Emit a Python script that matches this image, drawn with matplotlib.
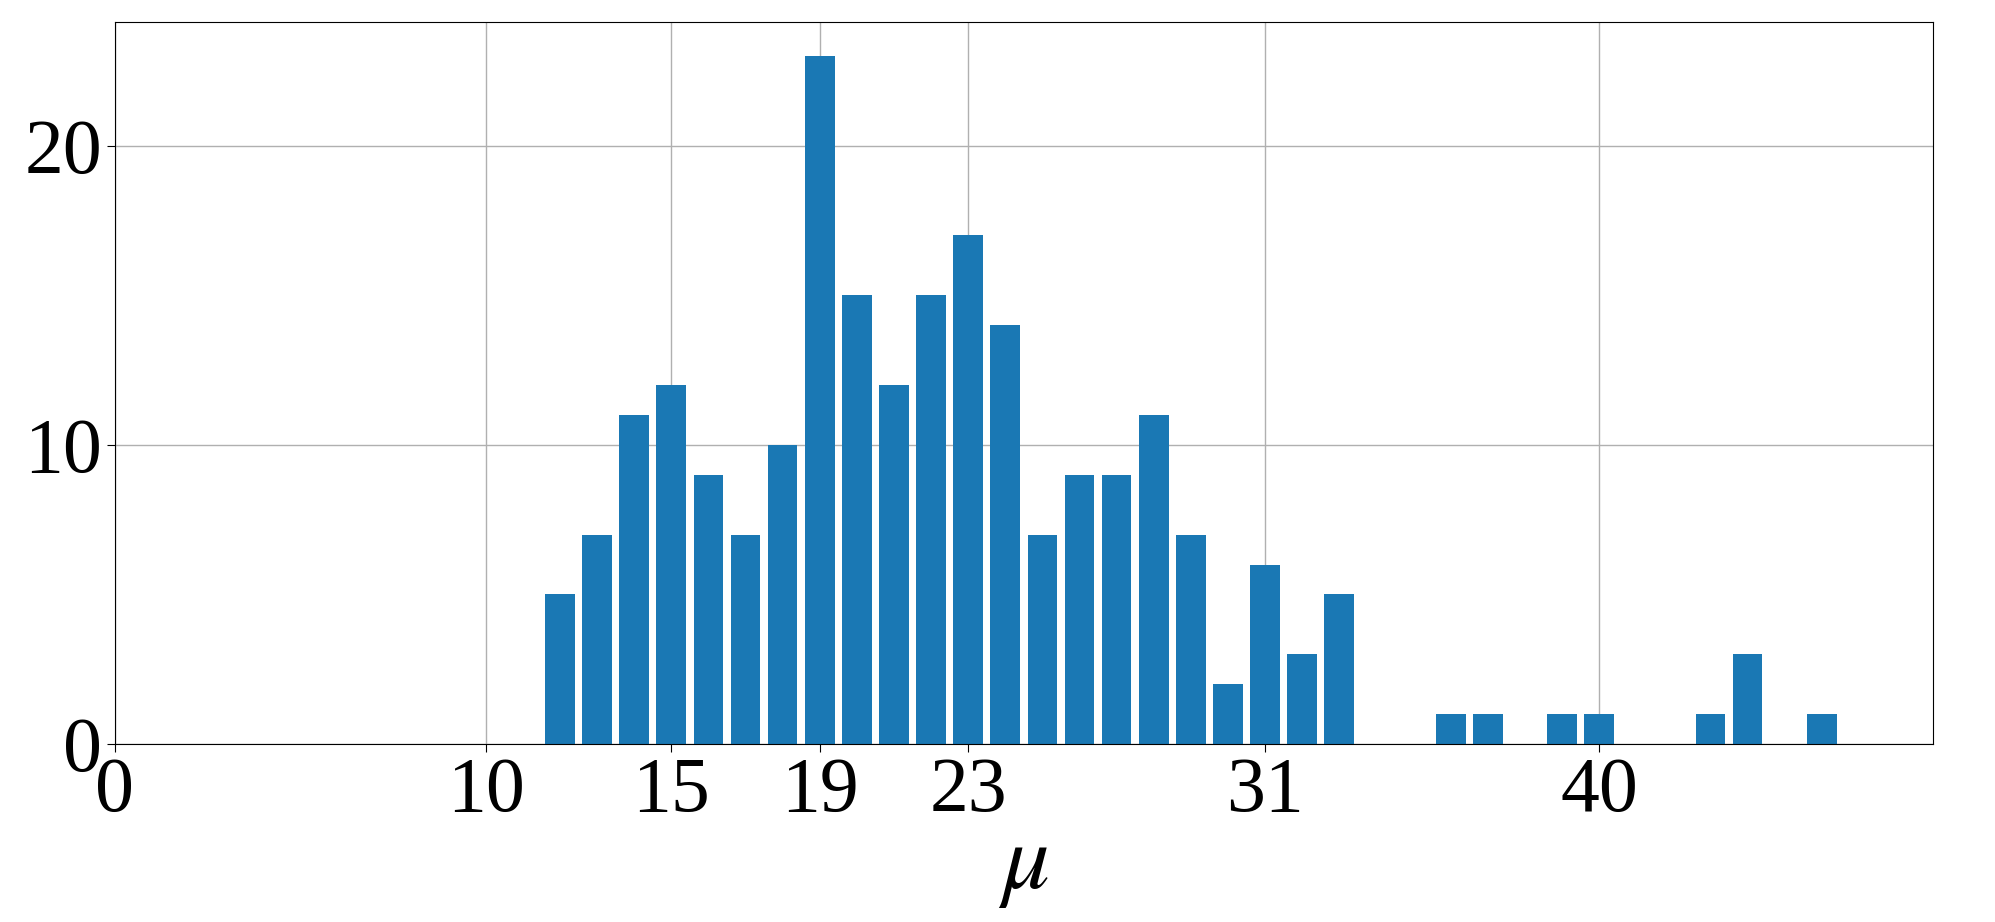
import matplotlib
matplotlib.use("Agg")
import matplotlib.pyplot as plt

plt.rcParams['font.family'] = ['Liberation Serif', 'DejaVu Serif']
plt.rcParams['mathtext.fontset'] = 'stix'

mu_values = [12, 13, 14, 15, 16, 17, 18, 19, 20, 21, 22, 23, 24, 25, 26, 27, 28,
             29, 30, 31, 32, 33, 36, 37, 39, 40, 43, 44, 46]
counts = [5, 7, 11, 12, 9, 7, 10, 23, 15, 12, 15, 17, 14, 7, 9, 9, 11,
          7, 2, 6, 3, 5, 1, 1, 1, 1, 1, 3, 1]
xtick_values = [0, 10, 15, 19, 23, 31, 40]
ytick_values = [0, 10, 20]

fig = plt.figure(figsize=(19.95, 9.22), dpi=100)
ax = fig.add_axes([0.0574, 0.193, 0.9116, 0.7836])
ax.bar(mu_values, counts, width=0.8, color='#1a78b4', zorder=2)
ax.set_xlim(0, 49)
ax.set_xticks(xtick_values)
ax.set_yticks(ytick_values)
ax.grid(True, color='#b0b0b0', linewidth=1.0, zorder=0)
ax.set_axisbelow(True)
ax.tick_params(labelsize=56, length=6, pad=3)
ax.set_xlabel(r'$\mu$', fontsize=68, labelpad=-2)

fig.savefig('out.png', dpi=100)
